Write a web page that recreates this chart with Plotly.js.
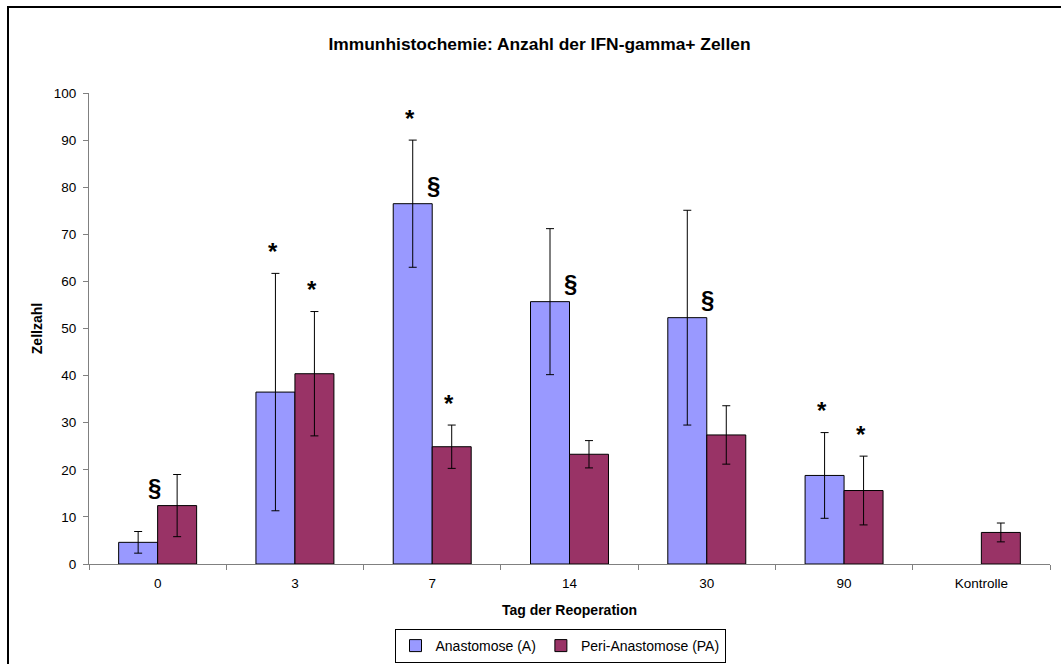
<!DOCTYPE html>
<html>
<head>
<meta charset="utf-8">
<script src="https://cdn.plot.ly/plotly-3.0.1.min.js"></script>
<style>
  html, body { margin: 0; padding: 0; background: #fff; overflow: hidden; }
  #wrap { position: absolute; left: 0; top: 0; width: 1061px; height: 664px; overflow: hidden; }
  #chart { position: absolute; left: 0; top: 0; width: 1061px; height: 664px; }
  #frame { position: absolute; left: 7px; top: 6px; width: 1100px; height: 720px;
           border-left: 2px solid #000; border-top: 2px solid #000; pointer-events: none; }
</style>
</head>
<body>
<div id="wrap">
  <div id="chart"></div>
  <div id="frame"></div>
</div>
<script>
// Tage der Reoperation (Kategorien der x-Achse)
const categories = ['0', '3', '7', '14', '30', '90', 'Kontrolle'];

// Mittelwerte und Standardabweichungen der IFN-gamma+ Zellen
const anastomose       = [4.6, 36.5, 76.5, 55.7, 52.3, 18.8, null];
const anastomoseSD     = [2.3, 25.2, 13.5, 15.5, 22.8, 9.1, null];
const periAnastomose   = [12.4, 40.4, 24.9, 23.3, 27.4, 15.6, 6.7];
const periAnastomoseSD = [6.6, 13.2, 4.6, 2.9, 6.2, 7.3, 2.0];

// Signifikanzmarker: Kategorie, betroffene Serie, Symbol
const markerCats    = ['0', '3', '3', '7', '7', '7', '14', '30', '90', '90'];
const markerSeries  = ['PA', 'A', 'PA', 'A', 'A', 'PA', 'A', 'A', 'A', 'PA'];
const markerSymbols = ['§', '*', '*', '*', '§', '*', '§', '§', '*', '*'];

const FONT = 'Liberation Sans, Arial, sans-serif';

const traces = [
  {
    type: 'bar', name: 'Anastomose (A)', x: categories, y: anastomose,
    marker: { color: '#9999FF', line: { color: '#000', width: 1 } },
    error_y: { type: 'data', array: anastomoseSD, visible: true, color: '#000', thickness: 1, width: 4 }
  },
  {
    type: 'bar', name: 'Peri-Anastomose (PA)', x: categories, y: periAnastomose,
    marker: { color: '#993366', line: { color: '#000', width: 1 } },
    error_y: { type: 'data', array: periAnastomoseSD, visible: true, color: '#000', thickness: 1, width: 4 }
  }
];

// '*' sits above the error bar of its bar, '§' above the bar top at the bar boundary
const annotations = markerCats.map((cat, i) => {
  const idx = categories.indexOf(cat);
  const isA = markerSeries[i] === 'A';
  const val = isA ? anastomose[idx] : periAnastomose[idx];
  const sd = isA ? anastomoseSD[idx] : periAnastomoseSD[idx];
  const sym = markerSymbols[i];
  const base = {
    x: idx, xref: 'x', yref: 'y', text: sym, showarrow: false,
    xanchor: 'center', yanchor: 'middle',
    font: { family: FONT, size: 24, color: '#000', weight: 700 }
  };
  if (sym === '*') {
    return Object.assign(base, { y: val + sd, xshift: isA ? -22 : 17, yshift: 22 });
  }
  return Object.assign(base, { y: val, xshift: isA ? 1 : -3, yshift: 18 });
});

const layout = {
  width: 1061, height: 664,
  margin: { l: 89, r: 11, t: 93, b: 100 },
  paper_bgcolor: '#fff', plot_bgcolor: '#fff',
  font: { family: FONT, size: 13.5, color: '#000' },
  barmode: 'group', bargap: 0.432, bargroupgap: 0,
  title: {
    text: 'Immunhistochemie: Anzahl der IFN-gamma+ Zellen',
    xref: 'container', yref: 'container', x: 539.5 / 1061, y: 1 - 43.7 / 664,
    xanchor: 'center', yanchor: 'middle',
    font: { family: FONT, size: 17.4, weight: 700, color: '#000' }
  },
  xaxis: {
    type: 'category', range: [-0.5, categories.length - 0.5], autorange: false,
    showline: true, linecolor: '#808080', linewidth: 1,
    ticks: 'outside', tickson: 'boundaries', ticklen: 5, tickcolor: '#808080',
    showgrid: false, zeroline: false, ticklabelstandoff: 7, tickangle: 0,
    title: { text: 'Tag der Reoperation', standoff: 14, font: { family: FONT, size: 14, weight: 700 } }
  },
  yaxis: {
    range: [0, 100], autorange: false, dtick: 10, showline: true, linecolor: '#808080', linewidth: 1,
    ticks: 'outside', ticklen: 5, tickcolor: '#808080',
    showgrid: false, zeroline: false, ticklabelstandoff: 4,
    title: { text: 'Zellzahl', standoff: 7, font: { family: FONT, size: 14, weight: 700 } }
  },
  showlegend: true,
  legend: {
    orientation: 'h', xref: 'container', yref: 'container',
    x: 560 / 1061, y: 1 - 646 / 664, xanchor: 'center', yanchor: 'middle',
    bordercolor: '#000', borderwidth: 1, itemwidth: 30,
    font: { family: FONT, size: 14, color: '#000' }
  },
  annotations: annotations
};

Plotly.newPlot('chart', traces, layout, { staticPlot: true });
</script>
</body>
</html>
